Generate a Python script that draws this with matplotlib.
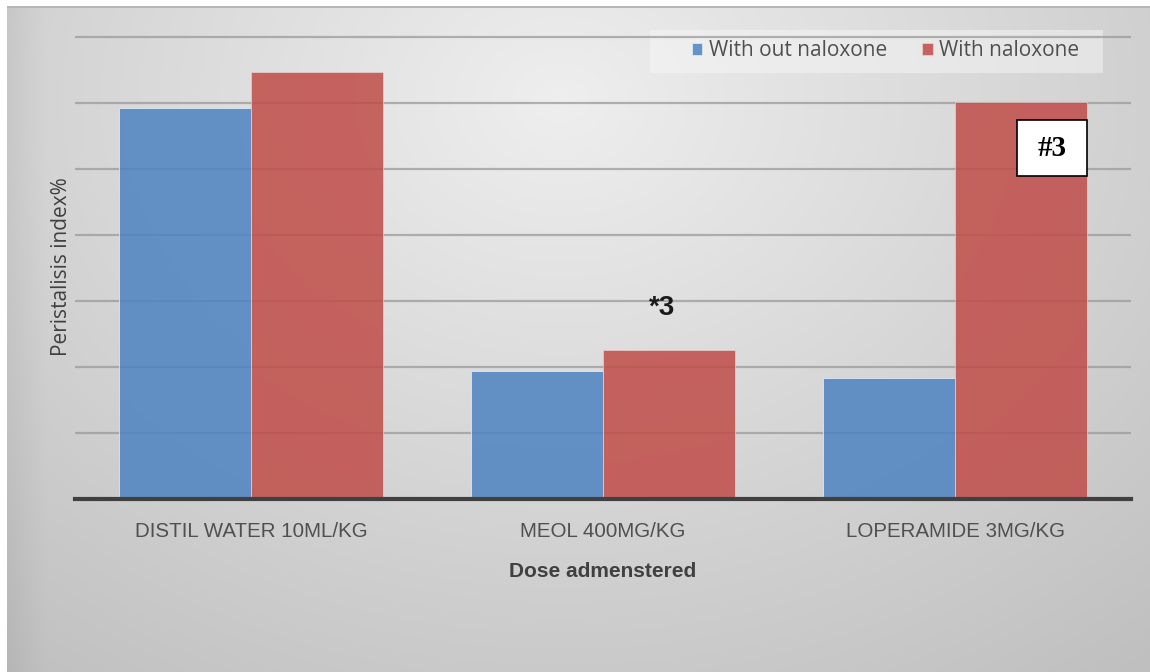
import numpy as np
import matplotlib
matplotlib.use("Agg")
import matplotlib.pyplot as plt
from matplotlib.patches import Rectangle

# data (gridline units, one grid step = 10)
categories = ["DISTIL WATER 10ML/KG", "MEOL 400MG/KG", "LOPERAMIDE 3MG/KG"]
without_naloxone = [59.2, 19.4, 18.3]
with_naloxone = [64.7, 22.6, 60.2]
series_names = ["With out naloxone", "With naloxone"]

# base colours; the bars are slightly see-through over the grid
BLUE = "#4d83c1"
RED = "#c04c48"
TEXT = "#505050"

W, H = 1150, 672
fig = plt.figure(figsize=(W / 100, H / 100), dpi=100)

# slide background: soft radial gray gradient inside a thin frame
bg = fig.add_axes([0, 0, 1, 1])
yy, xx = np.mgrid[0:H, 0:W]
r = np.sqrt(((xx - 560) / 950.0) ** 2 + ((yy - 100) / 750.0) ** 2)
shade = np.clip(0.935 - 0.19 * r, 0.75, 0.94)
shade -= 0.04 * np.clip(1 - (xx - 7) / 40.0, 0, 1)
img = np.dstack([shade] * 3)
img[:6, :] = 1.0
img[:, :7] = 1.0
img[6:8, 7:] = 0.72
img[6:, 7:9] = np.minimum(img[6:, 7:9], 0.8)
bg.imshow(img, extent=[0, W, H, 0], aspect="auto", interpolation="bilinear")
bg.set_xlim(0, W)
bg.set_ylim(H, 0)
bg.axis("off")

# translucent legend panel
bg.add_patch(Rectangle((650, 30), 453, 43, facecolor="#f6f6f6", alpha=0.5,
                       edgecolor="none"))

ax = fig.add_axes([75 / W, 1 - 499 / H, 1056 / W, 464 / H])
ax.set_facecolor("none")

x = np.arange(len(categories))
width = 0.375
ax.bar(x - width / 2, without_naloxone, width, color=BLUE, alpha=0.85,
       edgecolor="#dfe8f4", linewidth=0.7, label=series_names[0], zorder=2)
ax.bar(x + width / 2, with_naloxone, width, color=RED, alpha=0.85,
       edgecolor="#f0d8d7", linewidth=0.5, label=series_names[1], zorder=2)

ax.set_xlim(-0.5, 2.5)
ax.set_ylim(0, 70.3)
ax.set_yticks(np.arange(10, 71, 10))
ax.yaxis.grid(True, color="#9a9a9a", linewidth=1.6, zorder=1, alpha=0.75)
ax.set_axisbelow(True)
ax.tick_params(axis="y", left=False, labelleft=False)
ax.tick_params(axis="x", bottom=False, pad=13)
ax.set_xticks(x)
ax.set_xticklabels(categories, family="Liberation Sans", fontsize=14.8, color=TEXT)
for side in ["top", "right", "left"]:
    ax.spines[side].set_visible(False)
ax.spines["bottom"].set_color("#404040")
ax.spines["bottom"].set_linewidth(3)
ax.spines["bottom"].set_zorder(4)

ax.set_xlabel("Dose admenstered", family="Liberation Sans", fontsize=15, fontweight="bold",
              color="#404040", labelpad=15)
ax.set_ylabel("Peristalisis index%", family="Open Sans", fontsize=15, color="#404040",
              labelpad=2)

leg = ax.legend(loc="center right", bbox_to_anchor=((1079 - 75) / 1056, (499 - 51) / 464),
                ncol=2, frameon=False, prop={"family": "Open Sans", "size": 15},
                handlelength=0.5, handleheight=0.5, handletextpad=0.3,
                columnspacing=1.7, borderpad=0, borderaxespad=0)
for t in leg.get_texts():
    t.set_color(TEXT)

# significance marks
ax.text(x[1] + width / 2 - 0.02, with_naloxone[1] + 6.3, "*3", ha="center", va="center",
        fontsize=20, fontweight="bold", family="Liberation Sans", color="#1a1a1a")
ax.add_patch(Rectangle(((1017 - 75) / 1056, 323 / 464), 70 / 1056, 56 / 464,
                       transform=ax.transAxes, facecolor="white", edgecolor="black",
                       linewidth=1.2, zorder=5))
ax.text((1052 - 75) / 1056, 351 / 464, "#3", transform=ax.transAxes, ha="center",
        va="center", fontsize=21, fontweight="bold", family="Liberation Serif",
        color="black", zorder=6)

fig.savefig("out.png", dpi=100)
